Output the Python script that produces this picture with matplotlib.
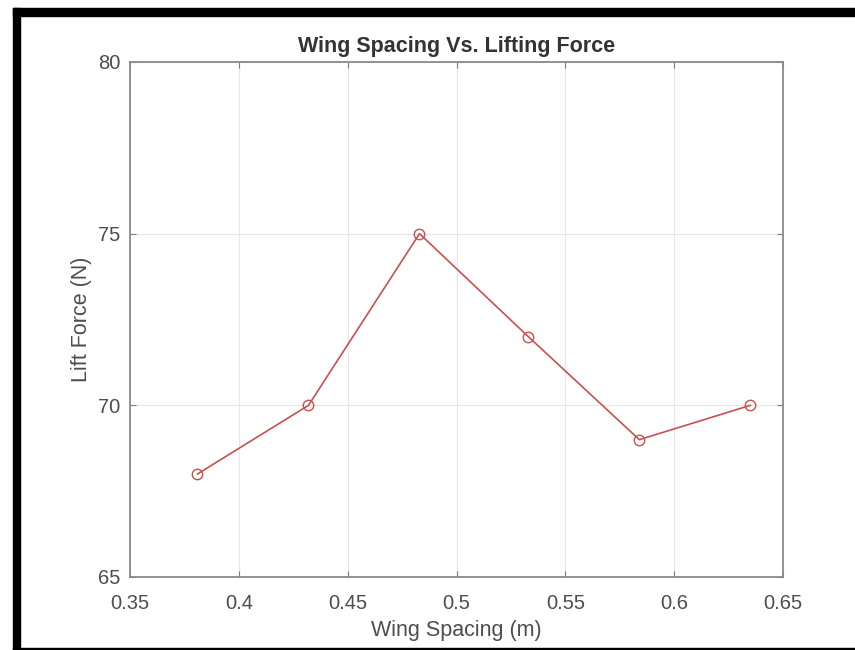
import matplotlib
matplotlib.use("Agg")
import matplotlib.pyplot as plt
from matplotlib.patches import Rectangle

# wing spacing (m) vs lift force (N)
spacing = [0.381, 0.432, 0.483, 0.533, 0.584, 0.635]
lift = [68, 70, 75, 72, 69, 70]

x_ticks = [0.35, 0.4, 0.45, 0.5, 0.55, 0.6, 0.65]
x_tick_labels = ["0.35", "0.4", "0.45", "0.5", "0.55", "0.6", "0.65"]
y_ticks = [65, 70, 75, 80]

plt.rcParams["font.family"] = ["Liberation Sans", "DejaVu Sans"]

W, H = 855, 650
fig = plt.figure(figsize=(W / 100, H / 100), dpi=100)
ax = fig.add_axes([130 / W, 1 - 577 / H, (783 - 130) / W, (577 - 62) / H])

text_col = "#4d4d4d"
line_col = "#c9504f"
ax.plot(spacing, lift, color=line_col, lw=1.2, marker="o", ms=7.5,
        mfc="none", mec=line_col, mew=1.0)

ax.set_xlim(0.35, 0.65)
ax.set_ylim(65, 80)
ax.set_xticks(x_ticks)
ax.set_xticklabels(x_tick_labels)
ax.set_yticks(y_ticks)
ax.grid(True, color="#e6e6e6", lw=0.8)
ax.set_axisbelow(True)
ax.tick_params(direction="in", length=4, colors="#7a7a7a", labelcolor=text_col,
               labelsize=14.5, top=True, right=True)
ax.tick_params(axis="x", pad=12)
ax.tick_params(axis="y", pad=7)
for s in ax.spines.values():
    s.set_color("#8a8a8a")
    s.set_linewidth(1.3)

ax.set_title("Wing Spacing Vs. Lifting Force", fontsize=15.5, fontweight="bold",
             color="#333333", pad=7)
ax.set_xlabel("Wing Spacing (m)", fontsize=15.5, color=text_col, labelpad=5)
ax.set_ylabel("Lift Force (N)", fontsize=15.5, color=text_col, labelpad=4)

# black frame around the screenshot
fig.patches.append(Rectangle((13 / W, 0), 7 / W, 1 - 8 / H, transform=fig.transFigure,
                             color="black", zorder=10))
fig.patches.append(Rectangle((13 / W, 1 - 16 / H), 1, 8 / H, transform=fig.transFigure,
                             color="black", zorder=10))
fig.patches.append(Rectangle((13 / W, 0), 1, 2 / H, transform=fig.transFigure,
                             color="black", zorder=10))

fig.savefig("out.png", dpi=100)
